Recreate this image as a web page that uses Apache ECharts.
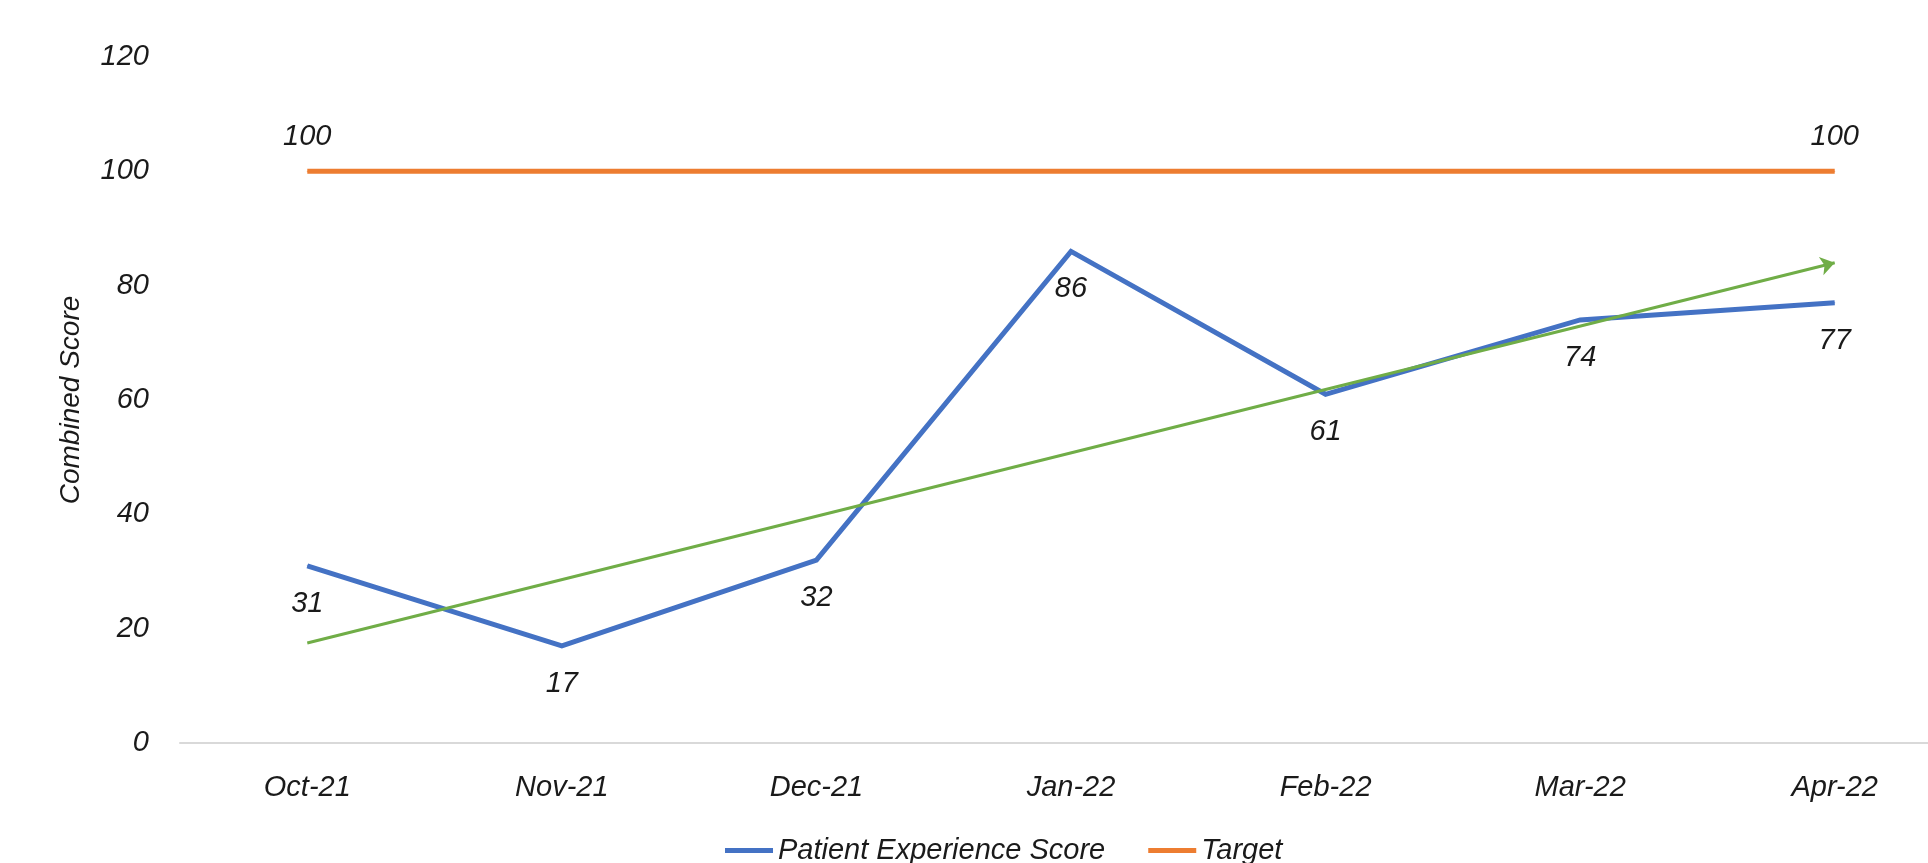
<!DOCTYPE html>
<html>
<head>
<meta charset="utf-8">
<script src="https://cdn.jsdelivr.net/npm/echarts@6/dist/echarts.min.js"></script>
<style>
html,body{margin:0;padding:0;background:#fff;}
#chart{width:1928px;height:863px;}
</style>
</head>
<body>
<div id="chart"></div>
<script>
const categories = ['Oct-21','Nov-21','Dec-21','Jan-22','Feb-22','Mar-22','Apr-22'];
const patientScores = [31, 17, 32, 86, 61, 74, 77];
const targetValues = [100, 100, 100, 100, 100, 100, 100];
const trendStart = 17.5;
const trendEnd = 84;
const yTicks = {min: 0, max: 120, interval: 20};

const FONT = '"Liberation Sans", Arial, sans-serif';
const TXT = '#1a1a1a';
const chart = echarts.init(document.getElementById('chart'), null, {renderer: 'canvas'});

const targetData = targetValues.map((v, i) => ({
  value: v,
  label: {show: i === 0 || i === targetValues.length - 1}
}));

chart.setOption({
  animation: false,
  backgroundColor: '#fff',
  textStyle: {fontFamily: FONT, fontStyle: 'italic', color: TXT},
  grid: {left: 180, right: -34, top: 57, bottom: 120, containLabel: false, outerBoundsMode: 'none'},
  legend: {
    data: ['Patient Experience Score', 'Target'],
    left: 720, top: 831,
    icon: 'rect', itemWidth: 48, itemHeight: 5, itemGap: 43,
    textStyle: {fontFamily: FONT, fontStyle: 'italic', fontSize: 29, color: TXT}
  },
  xAxis: {
    type: 'category',
    data: categories,
    boundaryGap: true,
    axisLine: {lineStyle: {color: '#d9d9d9', width: 2}},
    axisTick: {show: false},
    axisLabel: {fontFamily: FONT, fontStyle: 'italic', fontSize: 29, color: TXT, margin: 30},
    splitLine: {show: false}
  },
  yAxis: {
    type: 'value',
    min: yTicks.min, max: yTicks.max, interval: yTicks.interval,
    axisLine: {show: false},
    axisTick: {show: false},
    splitLine: {show: false},
    axisLabel: {fontFamily: FONT, fontStyle: 'italic', fontSize: 29, color: TXT, margin: 31},
    name: 'Combined Score',
    nameLocation: 'middle',
    nameRotate: 90,
    nameGap: 95,
    nameTextStyle: {fontFamily: FONT, fontStyle: 'italic', fontSize: 28, color: TXT}
  },
  series: [
    {
      name: 'Patient Experience Score',
      type: 'line',
      data: patientScores,
      symbol: 'circle', symbolSize: 1, showSymbol: true,
      itemStyle: {color: '#4472C4'},
      lineStyle: {color: '#4472C4', width: 5, join: 'miter'},
      label: {show: true, position: 'bottom', distance: 23, fontFamily: FONT, fontStyle: 'italic', fontSize: 29, color: TXT},
      z: 3
    },
    {
      name: 'Target',
      type: 'line',
      data: targetData,
      symbol: 'circle', symbolSize: 1, showSymbol: true,
      itemStyle: {color: '#ED7D31'},
      lineStyle: {color: '#ED7D31', width: 5},
      label: {position: 'top', distance: 19, fontFamily: FONT, fontStyle: 'italic', fontSize: 29, color: TXT},
      z: 3
    },
    {
      name: 'Trend',
      type: 'line',
      data: [],
      markLine: {
        silent: true,
        symbol: ['none', 'arrow'],
        symbolSize: 14,
        label: {show: false},
        lineStyle: {color: '#70AD47', width: 3, type: 'solid'},
        data: [[
          {coord: [categories[0], trendStart]},
          {coord: [categories[categories.length - 1], trendEnd]}
        ]]
      },
      z: 5
    }
  ]
});
</script>
</body>
</html>
